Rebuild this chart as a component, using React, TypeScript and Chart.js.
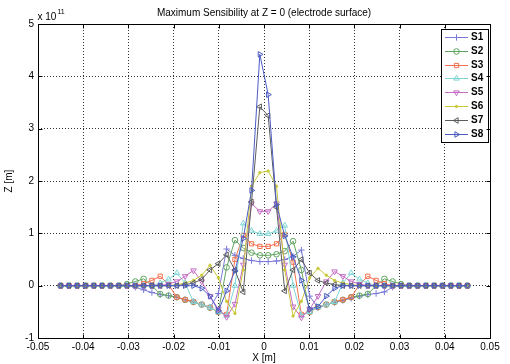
import React, { useEffect, useRef } from 'react';
import { Chart, registerables } from 'chart.js';
import { drawPoint } from 'chart.js/helpers';

Chart.register(...registerables);

const chartTitle = 'Maximum Sensibility at Z = 0 (electrode surface)';
const xAxisTitle = 'X [m]';
const yAxisTitle = 'Z [m]';
const exponentBase = 'x 10';
const exponentPower = '11';

const xTickLabels = ['-0.05', '-0.04', '-0.03', '-0.02', '-0.01', '0', '0.01', '0.02', '0.03', '0.04', '0.05'];
const yTickLabels = ['-1', '0', '1', '2', '3', '4', '5'];

const xPositions = [
  -0.045, -0.04316, -0.04133, -0.03949, -0.03765, -0.03582, -0.03398, -0.03214, -0.03031, -0.02847,
  -0.02663, -0.0248, -0.02296, -0.02112, -0.01929, -0.01745, -0.01561, -0.01378, -0.01194, -0.0101,
  -0.00827, -0.00643, -0.00459, -0.00276, -0.00092, 0.00092, 0.00276, 0.00459, 0.00643, 0.00827,
  0.0101, 0.01194, 0.01378, 0.01561, 0.01745, 0.01929, 0.02112, 0.02296, 0.0248, 0.02663,
  0.02847, 0.03031, 0.03214, 0.03398, 0.03582, 0.03765, 0.03949, 0.04133, 0.04316, 0.045,
];

const seriesNames = ['S1', 'S2', 'S3', 'S4', 'S5', 'S6', 'S7', 'S8'];

const s1 = [
  0, 0, 0, 0, 0, 0, 0, 0, 0, -0.03,
  -0.08, -0.13, -0.17, -0.19, -0.22, -0.27, -0.31, -0.36, -0.42, -0.15,
  0.7, 0.58, 0.52, 0.48, 0.46, 0.46, 0.47, 0.5, 0.56, 0.68,
  -0.2, -0.42, -0.36, -0.32, -0.28, -0.24, -0.2, -0.17, -0.15, -0.12,
  -0.03, 0, 0, 0, 0, 0, 0, 0, 0, 0,
];
const s2 = [
  0, 0, 0, 0, 0, 0, 0, 0, 0.03, 0.08,
  0.13, 0.0, -0.16, -0.19, -0.22, -0.27, -0.31, -0.36, -0.42, -0.5,
  0.35, 0.87, 0.72, 0.63, 0.58, 0.58, 0.6, 0.66, 0.85, 0.3,
  -0.5, -0.41, -0.36, -0.31, -0.27, -0.22, -0.19, -0.16, 0.0, 0.13,
  0.08, 0.03, 0, 0, 0, 0, 0, 0, 0, 0,
];
const s3 = [
  0, 0, 0, 0, 0, 0, 0, 0, 0, 0,
  0.04, 0.1, 0.18, 0.02, -0.22, -0.27, -0.31, -0.36, -0.42, -0.5,
  -0.55, 0.5, 0.96, 0.8, 0.75, 0.75, 0.8, 0.98, 0.45, -0.55,
  -0.5, -0.41, -0.36, -0.31, -0.27, -0.22, 0.02, 0.18, 0.1, 0.04,
  0, 0, 0, 0, 0, 0, 0, 0, 0, 0,
];
const s4 = [
  0, 0, 0, 0, 0, 0, 0, 0, 0, 0,
  0, 0, 0.05, 0.12, 0.24, 0.05, -0.31, -0.36, -0.42, -0.5,
  -0.57, 0.0, 1.19, 1.05, 0.99, 0.99, 1.05, 1.15, 0.0, -0.57,
  -0.5, -0.41, -0.36, -0.31, 0.05, 0.24, 0.12, 0.05, 0, 0,
  0, 0, 0, 0, 0, 0, 0, 0, 0, 0,
];
const s5 = [
  0, 0, 0, 0, 0, 0, 0, 0, 0, 0,
  0, 0, 0, 0.03, 0.08, 0.18, 0.29, 0.08, -0.2, -0.45,
  -0.6, -0.35, 0.4, 1.57, 1.42, 1.42, 1.57, 0.4, -0.4, -0.61,
  -0.45, -0.2, 0.08, 0.27, 0.18, 0.08, 0.03, 0, 0, 0,
  0, 0, 0, 0, 0, 0, 0, 0, 0, 0,
];
const s6 = [
  0, 0, 0, 0, 0, 0, 0, 0, 0, 0,
  0, 0, 0, 0, 0.02, 0.05, 0.1, 0.2, 0.39, 0.15,
  -0.3, -0.53, 0.3, 1.9, 2.16, 2.19, 1.9, 0.3, -0.58, -0.3,
  0.15, 0.33, 0.2, 0.1, 0.05, 0.02, 0, 0, 0, 0,
  0, 0, 0, 0, 0, 0, 0, 0, 0, 0,
];
const s7 = [
  0, 0, 0, 0, 0, 0, 0, 0, 0, 0,
  0, 0, 0, 0, 0, 0.02, 0.05, 0.12, 0.3, 0.42,
  0.59, 0.3, -0.12, 1.6, 3.42, 3.25, 1.5, -0.1, 0.3, 0.5,
  0.24, 0.1, 0.05, 0.02, 0, 0, 0, 0, 0, 0,
  0, 0, 0, 0, 0, 0, 0, 0, 0, 0,
];
const s8 = [
  0, 0, 0, 0, 0, 0, 0, 0, 0, 0,
  0, 0, 0, 0, 0, 0, 0, -0.05, -0.2, -0.48,
  -0.1, 0.28, 0.9, 1.82, 4.42, 3.65, 1.55, 0.95, 0.55, 0.1,
  -0.45, -0.4, -0.2, -0.05, 0, 0, 0, 0, 0, 0,
  0, 0, 0, 0, 0, 0, 0, 0, 0, 0,
];

const seriesValues = [s1, s2, s3, s4, s5, s6, s7, s8];
const seriesColors = ['#7a7ad8', '#5fa35f', '#f2714e', '#7fd5d5', '#c46cc4', '#c9c93a', '#5c5c5c', '#4b5cc4'];
const seriesMarkers = ['cross', 'circle', 'rect', 'triangle', 'triangle', 'circle', 'triangle', 'triangle'];
const seriesRotations = [0, 0, 0, 0, 180, 0, 270, 90];
const seriesRadii = [3.2, 2.8, 3, 3.2, 3.2, 1.2, 3.2, 3.2];

const FONT = '"Liberation Sans", Arial, sans-serif';

const frameLegendPlugin = {
  id: 'frameLegend',
  afterDatasetsDraw(chart: any) {
    const { ctx, chartArea } = chart;
    const x0 = Math.round(chartArea.right) - 49;
    const y0 = Math.round(chartArea.top) + 5;
    const w = 47;
    const h = 113;
    ctx.save();
    ctx.fillStyle = '#ffffff';
    ctx.fillRect(x0, y0, w, h);
    ctx.strokeStyle = '#000000';
    ctx.lineWidth = 1;
    ctx.strokeRect(x0 + 0.5, y0 + 0.5, w, h);
    chart.data.datasets.forEach((ds: any, i: number) => {
      const cy = Math.round(y0 + 8 + i * 13.8) + 0.5;
      ctx.strokeStyle = ds.borderColor;
      ctx.lineWidth = 1;
      ctx.setLineDash([]);
      ctx.beginPath();
      ctx.moveTo(x0 + 4, cy);
      ctx.lineTo(x0 + 27, cy);
      ctx.stroke();
      ctx.fillStyle = ds.pointBackgroundColor;
      drawPoint(ctx, { pointStyle: ds.pointStyle, rotation: ds.pointRotation, radius: ds.pointRadius, borderWidth: 1 }, x0 + 15.5, cy);
      ctx.fillStyle = '#000000';
      ctx.font = 'bold 10px ' + FONT;
      ctx.textBaseline = 'middle';
      ctx.textAlign = 'left';
      ctx.fillText(ds.label, x0 + 30, cy);
    });
    ctx.restore();
  },
  afterDraw(chart: any) {
    const { ctx, chartArea, scales } = chart;
    const l = Math.round(chartArea.left) + 0.5;
    const r = Math.round(chartArea.right) + 0.5;
    const t = Math.round(chartArea.top) + 0.5;
    const b = Math.round(chartArea.bottom) + 0.5;
    ctx.save();
    ctx.strokeStyle = '#000000';
    ctx.lineWidth = 1;
    ctx.setLineDash([]);
    ctx.strokeRect(l, t, r - l, b - t);
    ctx.beginPath();
    scales.x.ticks.forEach((tk: any) => {
      const px = Math.round(scales.x.getPixelForValue(tk.value)) + 0.5;
      ctx.moveTo(px, b); ctx.lineTo(px, b - 4);
      ctx.moveTo(px, t); ctx.lineTo(px, t + 4);
    });
    scales.y.ticks.forEach((tk: any) => {
      const py = Math.round(scales.y.getPixelForValue(tk.value)) + 0.5;
      ctx.moveTo(l, py); ctx.lineTo(l + 4, py);
      ctx.moveTo(r, py); ctx.lineTo(r - 4, py);
    });
    ctx.stroke();
    ctx.fillStyle = '#000000';
    ctx.textBaseline = 'alphabetic';
    ctx.textAlign = 'left';
    ctx.font = '10px ' + FONT;
    ctx.fillText(exponentBase, l - 1, t - 5);
    const wBase = ctx.measureText(exponentBase).width;
    ctx.font = '7px ' + FONT;
    ctx.fillText(exponentPower, l - 1 + wBase + 1, t - 11);
    ctx.restore();
  },
};

export default function App() {
  const canvasRef = useRef<HTMLCanvasElement | null>(null);

  useEffect(() => {
    document.body.style.margin = '0';
    const canvas = canvasRef.current;
    if (!canvas) return;
    const datasets = seriesNames.map((name, k) => ({
      label: name,
      data: xPositions.map((x, i) => ({ x, y: seriesValues[k][i] })),
      borderColor: seriesColors[k],
      backgroundColor: seriesColors[k],
      pointBorderColor: seriesColors[k],
      pointBackgroundColor: k === 5 ? seriesColors[k] : 'rgba(0,0,0,0)',
      pointStyle: seriesMarkers[k],
      pointRotation: seriesRotations[k],
      pointRadius: seriesRadii[k],
      pointBorderWidth: 1,
      borderWidth: 1,
      tension: 0,
      fill: false,
      order: 7 - k,
    }));

    const chart = new Chart(canvas, {
      type: 'line',
      data: { datasets },
      options: {
        animation: false,
        responsive: false,
        devicePixelRatio: 1,
        layout: { padding: { left: 0, right: 20, top: 0, bottom: 0 } },
        plugins: {
          legend: { display: false },
          tooltip: { enabled: false },
          title: {
            display: true,
            text: chartTitle,
            fullSize: false,
            color: '#000000',
            font: { family: FONT, size: 10, weight: 'normal' },
            padding: { top: 7, bottom: 5 },
          },
        },
        scales: {
          x: {
            type: 'linear',
            min: -0.05,
            max: 0.05,
            afterFit: (scale: any) => { scale.height = 26; },
            ticks: {
              stepSize: 0.01,
              autoSkip: false,
              maxRotation: 0,
              padding: 3,
              color: '#000000',
              font: { family: FONT, size: 10 },
              callback: (_v: any, idx: number) => xTickLabels[idx],
            },
            grid: { color: '#333333', lineWidth: 1, drawTicks: false },
            border: { display: false, dash: [1, 2] },
            title: {
              display: true,
              text: xAxisTitle,
              color: '#000000',
              font: { family: FONT, size: 10 },
              padding: { top: 0, bottom: 0 },
            },
          },
          y: {
            type: 'linear',
            min: -1,
            max: 5,
            afterFit: (scale: any) => { scale.width = 38; },
            ticks: {
              stepSize: 1,
              autoSkip: false,
              padding: 4,
              color: '#000000',
              font: { family: FONT, size: 10 },
              callback: (_v: any, idx: number) => yTickLabels[idx],
            },
            grid: { color: '#333333', lineWidth: 1, drawTicks: false },
            border: { display: false, dash: [1, 2] },
            title: {
              display: true,
              text: yAxisTitle,
              color: '#000000',
              font: { family: FONT, size: 10 },
              padding: { top: 3, bottom: 0 },
            },
          },
        },
      },
      plugins: [frameLegendPlugin],
    });
    return () => chart.destroy();
  }, []);

  return <canvas ref={canvasRef} width={510} height={364} style={{ display: 'block' }} />;
}
